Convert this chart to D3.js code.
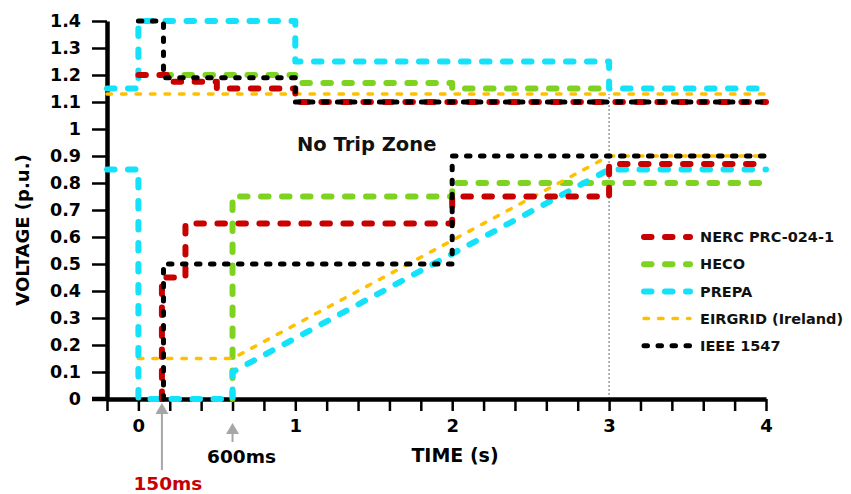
<!DOCTYPE html>
<html lang="en">
  <head>
    <meta charset="utf-8" />
    <title>Ride-through voltage curves</title>
    <script src="https://cdnjs.cloudflare.com/ajax/libs/d3/7.8.5/d3.min.js"></script>
    <style type="text/css">
      body {
        margin: 0;
        background: #fff;
      }
      text {
        font-family: "DejaVu Sans", sans-serif;
        font-weight: bold;
      }
      .axis path,
      .axis line {
        stroke: #000;
      }
      .series {
        fill: none;
        stroke-linecap: round;
        stroke-linejoin: round;
      }
    </style>
  </head>

  <body>
    <div id="chart"></div>

    <script>
      // time in s, voltage in p.u.
      const nercHigh = [[0, 1.2], [0.2, 1.2], [0.2, 1.175], [0.5, 1.175], [0.5, 1.15], [1, 1.15], [1, 1.1], [4, 1.1]];
      const nercLow = [[0.15, 0], [0.15, 0.45], [0.3, 0.45], [0.3, 0.65], [2, 0.65], [2, 0.75], [3, 0.75], [3, 0.87], [4, 0.87]];
      const hecoHigh = [[0.16, 1.2], [1, 1.2], [1, 1.17], [2, 1.17], [2, 1.15], [3, 1.15]];
      const hecoLow = [[0.6, 0], [0.6, 0.75], [2, 0.75], [2, 0.8], [4, 0.8]];
      const prepaHigh = [[-0.2, 1.15], [0, 1.15], [0, 1.4], [1, 1.4], [1, 1.25], [3, 1.25], [3, 1.15], [4, 1.15]];
      const prepaLow = [[-0.2, 0.85], [0, 0.85], [0, 0], [0.6, 0], [0.6, 0.1], [3, 0.85], [4, 0.85]];
      const eirgridHigh = [[-0.2, 1.13], [4, 1.13]];
      const eirgridLow = [[0, 0.15], [0.6, 0.15], [3, 0.9], [4, 0.9]];
      const ieeeHigh = [[0, 1.4], [0.16, 1.4], [0.16, 1.19], [1, 1.19], [1, 1.1], [4, 1.1]];
      const ieeeLow = [[0.16, 0], [0.16, 0.5], [2, 0.5], [2, 0.9], [4, 0.9]];

      const seriesNames = ["NERC PRC-024-1", "HECO", "PREPA", "EIRGRID (Ireland)", "IEEE 1547"];
      const xTicks = d3.range(-1, 21).map((i) => i / 5);
      const yTicks = d3.range(0, 15).map((i) => i / 10);
      const markers = [0.15, 0.6];
      const markerLabels = ["150ms", "600ms"];

      const styles = [
        { color: "#c80000", width: 6, dash: "7.5,13.5" },
        { color: "#7ed321", width: 6, dash: "7.5,13.5" },
        { color: "#13e2fa", width: 6, dash: "7.5,13.5" },
        { color: "#ffc000", width: 3.5, dash: "4.5,10" },
        { color: "#000000", width: 5, dash: "3.5,10.5" },
      ];
      const seriesData = [
        [nercHigh, nercLow],
        [hecoHigh, hecoLow],
        [prepaHigh, prepaLow],
        [eirgridHigh, eirgridLow],
        [ieeeHigh, ieeeLow],
      ];

      const width = 851;
      const height = 494;

      const svg = d3
        .select("#chart")
        .append("svg")
        .attr("width", width)
        .attr("height", height);

      const x = d3.scaleLinear().domain([-0.2, 4]).range([107, 766]);
      const y = d3.scaleLinear().domain([0, 1.4]).range([399, 21]);

      // dotted guide at 3 s
      svg
        .append("line")
        .attr("x1", x(3))
        .attr("x2", x(3))
        .attr("y1", y(0))
        .attr("y2", y(1.13))
        .attr("stroke", "#9a9a9a")
        .attr("stroke-width", 1.5)
        .attr("stroke-dasharray", "2,2");

      // axes
      const xAxis = d3
        .axisBottom(x)
        .tickValues(xTicks)
        .tickSize(12)
        .tickSizeOuter(0)
        .tickPadding(8)
        .tickFormat((d) => (Math.abs(d - Math.round(d)) < 1e-9 && d >= 0 ? Math.round(d) : ""));

      const yAxis = d3
        .axisLeft(y)
        .tickValues(yTicks)
        .tickSize(15)
        .tickSizeOuter(0)
        .tickPadding(11)
        .tickFormat(d3.format(".1~f"));

      const gx = svg
        .append("g")
        .attr("class", "axis x")
        .attr("transform", `translate(0, ${y(0)})`)
        .call(xAxis);
      gx.select(".domain").attr("stroke-width", 4.5);
      gx.selectAll(".tick line").attr("stroke-width", 2.5);
      gx.selectAll(".tick text").attr("font-size", 18).attr("fill", "#000");

      const gy = svg
        .append("g")
        .attr("class", "axis y")
        .attr("transform", `translate(${x(-0.2)}, 0)`)
        .call(yAxis);
      gy.select(".domain").attr("stroke-width", 4.5);
      gy.selectAll(".tick line").attr("stroke-width", 2.5);
      gy.selectAll(".tick text").attr("font-size", 17.5).attr("fill", "#000");

      // x axis runs left past the y axis
      svg
        .append("line")
        .attr("x1", x(-0.2) - 15)
        .attr("x2", x(-0.2))
        .attr("y1", y(0))
        .attr("y2", y(0))
        .attr("stroke", "#000")
        .attr("stroke-width", 4.5);

      // series
      const line = d3
        .line()
        .x((d) => x(d[0]))
        .y((d) => y(d[1]));

      const drawOrder = [1, 3, 2, 0, 4];
      drawOrder.forEach((i) => {
        const s = styles[i];
        seriesData[i].forEach((pts) => {
          svg
            .append("path")
            .datum(pts)
            .attr("class", "series")
            .attr("stroke", s.color)
            .attr("stroke-width", s.width)
            .attr("stroke-dasharray", s.dash)
            .attr("d", line);
        });
      });

      // labels
      svg
        .append("text")
        .attr("x", 297)
        .attr("y", y(0.9) - 5)
        .attr("font-size", 19.5)
        .attr("fill", "#111")
        .text("No Trip Zone");

      svg
        .append("text")
        .attr("transform", `translate(29, ${(y(0) + y(1.4)) / 2 + 20}) rotate(-90)`)
        .attr("text-anchor", "middle")
        .attr("font-size", 18)
        .attr("fill", "#000")
        .text("VOLTAGE (p.u.)");

      svg
        .append("text")
        .attr("x", 455)
        .attr("y", 462)
        .attr("text-anchor", "middle")
        .attr("font-size", 19)
        .attr("fill", "#000")
        .text("TIME (s)");

      // arrows to 150ms / 600ms
      const arrowTop = [403, 423];
      const arrowBottom = [470, 442];
      markers.forEach((t, i) => {
        const cx = x(t);
        svg
          .append("line")
          .attr("x1", cx)
          .attr("x2", cx)
          .attr("y1", arrowTop[i] + 8)
          .attr("y2", arrowBottom[i])
          .attr("stroke", "#a6a6a6")
          .attr("stroke-width", 2);
        svg
          .append("path")
          .attr("d", `M${cx},${arrowTop[i]} L${cx - 6.5},${arrowTop[i] + 11} L${cx + 6.5},${arrowTop[i] + 11} Z`)
          .attr("fill", "#a6a6a6");
      });
      svg
        .append("text")
        .attr("x", x(markers[0]) + 6)
        .attr("y", 490)
        .attr("text-anchor", "middle")
        .attr("font-size", 18.5)
        .attr("fill", "#c80000")
        .text(markerLabels[0]);
      svg
        .append("text")
        .attr("x", x(markers[1]) + 9)
        .attr("y", 463)
        .attr("text-anchor", "middle")
        .attr("font-size", 18.5)
        .attr("fill", "#000")
        .text(markerLabels[1]);

      // legend
      const legend = svg.append("g").attr("transform", "translate(642, 237)");
      seriesNames.forEach((name, i) => {
        const s = styles[i];
        const row = legend.append("g").attr("transform", `translate(0, ${i * 27.2})`);
        row
          .append("line")
          .attr("x1", 2)
          .attr("x2", 48)
          .attr("stroke", s.color)
          .attr("stroke-width", s.width)
          .attr("stroke-linecap", "round")
          .attr("stroke-dasharray", s.dash);
        row
          .append("text")
          .attr("x", 58)
          .attr("dy", "0.36em")
          .attr("font-size", 14.5)
          .attr("fill", "#111")
          .text(name);
      });
    </script>
  </body>
</html>
